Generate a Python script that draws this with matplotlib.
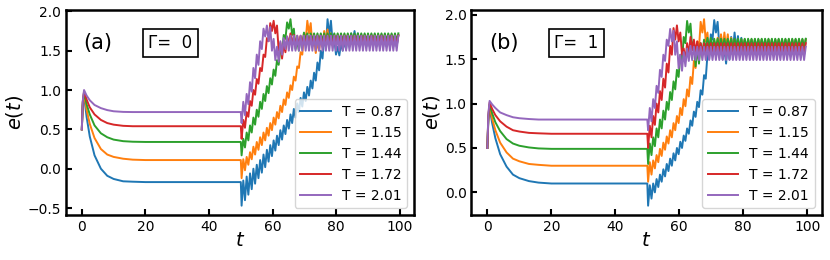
import numpy as np
import matplotlib.pyplot as plt

temps = ["0.87", "1.15", "1.44", "1.72", "2.01"]
colors = ["#1f77b4", "#ff7f0e", "#2ca02c", "#d62728", "#9467bd"]

# relaxation before the drive is switched on at t = 50
t_relax = [0, 0.3, 0.7, 1.5, 2.5, 4, 6, 8, 10, 13, 16, 20, 50]

# ---- panel (a), Gamma = 0 ----
relax_a = [
    [0.5, 0.80, 0.93, 0.66, 0.41, 0.17, 0.00, -0.09, -0.13, -0.16, -0.165, -0.17, -0.17],
    [0.5, 0.82, 0.95, 0.75, 0.57, 0.39, 0.25, 0.18, 0.15, 0.127, 0.115, 0.11, 0.11],
    [0.5, 0.84, 0.97, 0.82, 0.69, 0.55, 0.45, 0.40, 0.37, 0.35, 0.343, 0.34, 0.34],
    [0.5, 0.85, 0.98, 0.88, 0.78, 0.69, 0.62, 0.58, 0.56, 0.545, 0.54, 0.54, 0.54],
    [0.5, 0.86, 1.00, 0.93, 0.87, 0.81, 0.77, 0.745, 0.73, 0.722, 0.72, 0.72, 0.72],
]
# minima / maxima of each drive cycle after t = 50
troughs_a = [
    [-0.47, -0.40, -0.33, -0.26, -0.19, -0.12, -0.05, 0.02, 0.09, 0.16,
     0.23, 0.30, 0.37, 0.44, 0.51, 0.58, 0.65, 0.72, 0.79, 0.86,
     0.93, 1.02, 1.12, 1.25, 1.40, 1.55, 1.70, 1.60, 1.45, 1.44,
     1.50, 1.52, 1.55, 1.60, 1.58, 1.55] + [1.55] * 11,
    [-0.12, -0.02, 0.05, 0.12, 0.18, 0.24, 0.30, 0.36, 0.42, 0.49,
     0.56, 0.64, 0.72, 0.81, 0.90, 1.00, 1.12, 1.28, 1.45, 1.62,
     1.72, 1.55, 1.47, 1.50, 1.55, 1.60, 1.58, 1.58, 1.60] + [1.60] * 18,
    [0.17, 0.27, 0.36, 0.46, 0.56, 0.66, 0.76, 0.86, 0.96, 1.07,
     1.18, 1.32, 1.48, 1.65, 1.78, 1.70, 1.52, 1.50, 1.58, 1.63,
     1.60] + [1.62] * 26,
    [0.38, 0.52, 0.66, 0.80, 0.94, 1.08, 1.24, 1.42, 1.62, 1.75,
     1.72, 1.50, 1.40, 1.48, 1.58, 1.57, 1.55] + [1.57] * 30,
    [0.58, 0.68, 0.82, 0.98, 1.15, 1.32, 1.52, 1.68, 1.62, 1.50,
     1.38, 1.36, 1.45, 1.52, 1.50] + [1.50] * 32,
]
peaks_a = [
    [-0.15, -0.10, -0.06, 0.00, 0.05, 0.11, 0.18, 0.24, 0.30, 0.36,
     0.42, 0.49, 0.55, 0.62, 0.69, 0.76, 0.83, 0.90, 0.97, 1.04,
     1.12, 1.22, 1.35, 1.50, 1.68, 1.90, 1.88, 1.65, 1.55, 1.60,
     1.62, 1.68, 1.72, 1.75, 1.72, 1.70] + [1.70] * 11,
    [0.12, 0.15, 0.21, 0.28, 0.34, 0.40, 0.46, 0.52, 0.58, 0.65,
     0.72, 0.80, 0.88, 0.97, 1.06, 1.17, 1.30, 1.48, 1.72, 1.88,
     1.85, 1.65, 1.62, 1.70, 1.75, 1.77, 1.72, 1.70] + [1.70] * 19,
    [0.38, 0.46, 0.55, 0.65, 0.75, 0.85, 0.95, 1.05, 1.15, 1.26,
     1.38, 1.52, 1.70, 1.86, 1.90, 1.78, 1.62, 1.68, 1.73, 1.72] + [1.72] * 27,
    [0.62, 0.72, 0.86, 1.00, 1.14, 1.28, 1.45, 1.66, 1.85, 1.88,
     1.82, 1.60, 1.58, 1.68, 1.72, 1.70] + [1.69] * 31,
    [0.85, 0.95, 1.10, 1.28, 1.45, 1.62, 1.78, 1.82, 1.80, 1.65,
     1.55, 1.62, 1.66, 1.68] + [1.69] * 33,
]

# ---- panel (b), Gamma = 1 ----
relax_b = [
    [0.5, 0.80, 0.95, 0.78, 0.61, 0.43, 0.29, 0.20, 0.16, 0.127, 0.11, 0.10, 0.10],
    [0.5, 0.82, 0.97, 0.83, 0.70, 0.56, 0.45, 0.38, 0.35, 0.32, 0.31, 0.30, 0.30],
    [0.5, 0.85, 0.99, 0.89, 0.79, 0.69, 0.60, 0.55, 0.525, 0.506, 0.495, 0.49, 0.49],
    [0.5, 0.86, 1.01, 0.94, 0.87, 0.80, 0.74, 0.70, 0.685, 0.67, 0.665, 0.66, 0.66],
    [0.5, 0.88, 1.03, 0.99, 0.95, 0.90, 0.87, 0.846, 0.835, 0.826, 0.82, 0.82, 0.82],
]
troughs_b = [
    [-0.15, -0.07, 0.00, 0.06, 0.12, 0.18, 0.24, 0.30, 0.36, 0.43,
     0.50, 0.58, 0.66, 0.75, 0.85, 0.96, 1.10, 1.28, 1.50, 1.72,
     1.80, 1.65, 1.50, 1.45, 1.50, 1.58, 1.60, 1.58] + [1.55] * 19,
    [0.12, 0.20, 0.27, 0.34, 0.41, 0.48, 0.55, 0.62, 0.70, 0.78,
     0.87, 0.97, 1.08, 1.22, 1.40, 1.62, 1.80, 1.70, 1.55, 1.55,
     1.60, 1.62, 1.62, 1.62] + [1.60] * 23,
    [0.32, 0.42, 0.52, 0.62, 0.72, 0.82, 0.93, 1.04, 1.16, 1.30,
     1.48, 1.68, 1.80, 1.62, 1.42, 1.45, 1.55, 1.60, 1.62] + [1.62] * 28,
    [0.50, 0.62, 0.76, 0.90, 1.04, 1.18, 1.35, 1.55, 1.72, 1.70,
     1.55, 1.48, 1.55, 1.60, 1.58] + [1.56] * 32,
    [0.70, 0.80, 0.95, 1.12, 1.30, 1.48, 1.65, 1.70, 1.55, 1.40,
     1.37, 1.42, 1.48] + [1.49] * 34,
]
peaks_b = [
    [0.08, 0.10, 0.15, 0.20, 0.26, 0.32, 0.38, 0.44, 0.50, 0.57,
     0.64, 0.72, 0.81, 0.91, 1.02, 1.15, 1.32, 1.55, 1.78, 1.94,
     1.92, 1.72, 1.62, 1.68, 1.75, 1.80, 1.76, 1.74] + [1.72] * 19,
    [0.34, 0.36, 0.42, 0.49, 0.56, 0.63, 0.70, 0.78, 0.86, 0.95,
     1.05, 1.16, 1.30, 1.48, 1.70, 1.92, 1.95, 1.80, 1.68, 1.70,
     1.74, 1.78, 1.80, 1.78, 1.74] + [1.72] * 22,
    [0.55, 0.62, 0.72, 0.82, 0.92, 1.02, 1.13, 1.25, 1.38, 1.55,
     1.75, 1.93, 1.90, 1.70, 1.62, 1.68, 1.72, 1.74, 1.74] + [1.73] * 28,
    [0.75, 0.86, 1.00, 1.14, 1.28, 1.45, 1.65, 1.85, 1.88, 1.80,
     1.62, 1.68, 1.75, 1.72, 1.70] + [1.68] * 32,
    [0.95, 1.05, 1.20, 1.38, 1.55, 1.72, 1.84, 1.82, 1.70, 1.55,
     1.58, 1.62, 1.65] + [1.64] * 34,
]

T_START = 50.25   # first minimum after the switch
PERIOD = 1.06     # drive period


def build_curve(relax, troughs, peaks):
    t_tr = T_START + PERIOD * np.arange(len(troughs))
    t_pk = t_tr + 0.53
    t_drive = np.column_stack([t_tr, t_pk]).ravel()
    e_drive = np.column_stack([troughs, peaks]).ravel()
    t = np.concatenate([t_relax, t_drive])
    e = np.concatenate([relax, e_drive])
    return t, e


fig = plt.figure(figsize=(8.3, 2.6), dpi=100)
ax_a = fig.add_axes([0.0795, 0.173, 0.4195, 0.789])
ax_b = fig.add_axes([0.568, 0.173, 0.422, 0.789])

panels = [
    (ax_a, relax_a, troughs_a, peaks_a, "(a)", "Γ=  0"),
    (ax_b, relax_b, troughs_b, peaks_b, "(b)", "Γ=  1"),
]

for ax, relax, troughs, peaks, tag, gam in panels:
    for i in range(len(temps)):
        t, e = build_curve(relax[i], troughs[i], peaks[i])
        ax.plot(t, e, color=colors[i], lw=1.4, label="T = " + temps[i])
    ax.set_xticks([0, 20, 40, 60, 80, 100])
    ax.set_yticks([-0.5, 0.0, 0.5, 1.0, 1.5, 2.0] if tag == "(a)" else [0.0, 0.5, 1.0, 1.5, 2.0])
    ax.tick_params(direction="in", width=1.5, length=4, labelsize=10)
    for s in ax.spines.values():
        s.set_linewidth(1.8)
    ax.set_xlabel("$t$", fontsize=14, labelpad=-2)
    ax.set_ylabel("$e(t)$", fontsize=14, labelpad=2)
    ax.text(0.05, 0.84, tag, transform=ax.transAxes, fontsize=15, va="center")
    ax.text(0.30, 0.84, gam, transform=ax.transAxes, fontsize=12, va="center", ha="center",
            bbox=dict(boxstyle="square,pad=0.3", fc="white", ec="black", lw=1.2))
    ax.legend(loc="lower right", fontsize=10, handlelength=2.2)

fig.savefig("out.png", dpi=100)
